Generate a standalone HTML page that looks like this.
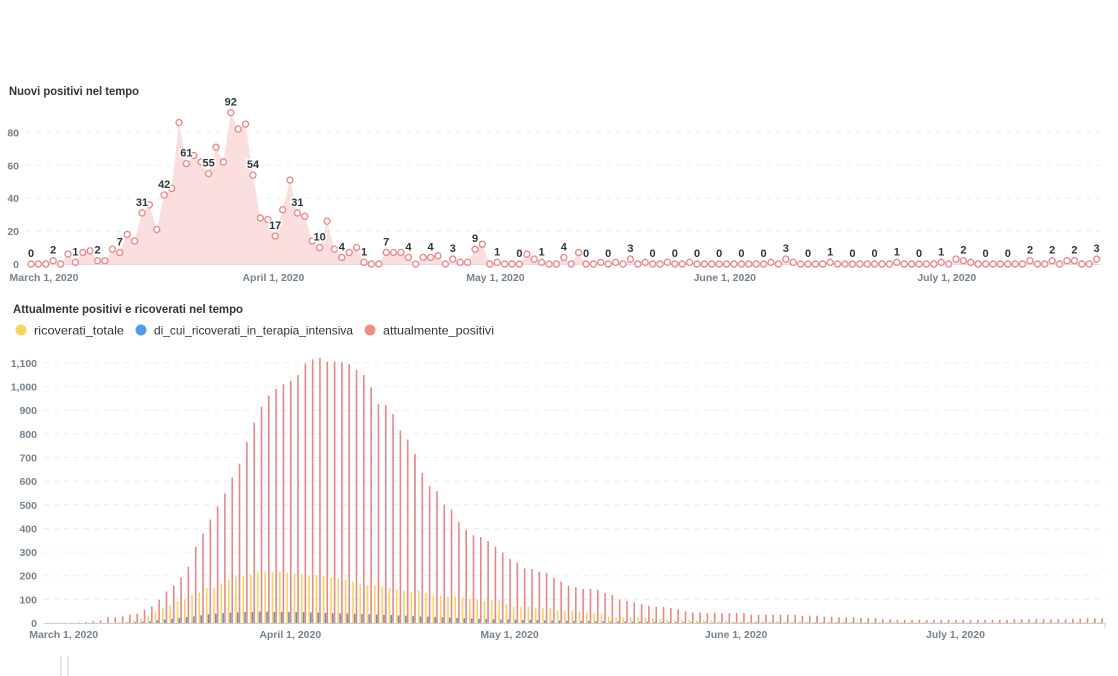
<!DOCTYPE html>
<html><head><meta charset="utf-8">
<style>
html,body{margin:0;padding:0;background:#fff;width:1118px;height:676px;overflow:hidden;font-family:"Liberation Sans",sans-serif;}
svg{position:absolute;left:0;top:0;}
.t{font-weight:bold;fill:#2e353b;font-size:12px;}
.ax{font-weight:bold;fill:#74838f;font-size:10.5px;}
.lbl{font-weight:bold;fill:#2e353b;font-size:11px;stroke:#fff;stroke-width:3px;paint-order:stroke;}
.leg{fill:#2e353b;font-size:12px;}
</style></head><body>
<svg id="chart" width="1118" height="676">
  <text class="t" x="9" y="95" textLength="130" lengthAdjust="spacingAndGlyphs">Nuovi positivi nel tempo</text>
  <text class="t" x="13" y="313" textLength="230" lengthAdjust="spacingAndGlyphs">Attualmente positivi e ricoverati nel tempo</text>
  <g>
    <circle cx="21" cy="330" r="5.5" fill="#F9D45C"/>
    <text class="leg" x="34" y="334.5" textLength="90" lengthAdjust="spacingAndGlyphs">ricoverati_totale</text>
    <circle cx="141" cy="330" r="5.5" fill="#509EE3"/>
    <text class="leg" x="154" y="334.5" textLength="199" lengthAdjust="spacingAndGlyphs">di_cui_ricoverati_in_terapia_intensiva</text>
    <circle cx="370" cy="330" r="5.5" fill="#EF8C8C"/>
    <text class="leg" x="383" y="334.5" textLength="111" lengthAdjust="spacingAndGlyphs">attualmente_positivi</text>
  </g>
  <g>
    <line x1="61" y1="656" x2="61" y2="676" stroke="#e2e4e6" stroke-width="2"/>
    <line x1="68" y1="656" x2="68" y2="676" stroke="#e2e4e6" stroke-width="2"/>
  </g>
</svg>
<script>
// ---- top chart data ----
const nuoviPositivi = [0,0,0,2,0,6,1,7,8,2,2,9,7,18,14,31,36,21,42,46,86,61,66,62,55,71,62,92,82,85,54,28,27,17,33,51,31,29,14,10,26,9,4,7,10,1,0,0,7,7,7,4,0,4,4,5,0,3,1,1,9,12,0,1,0,0,0,6,3,1,0,0,4,0,7,0,0,1,0,1,0,3,0,1,0,0,1,0,0,1,0,0,0,0,0,0,0,0,0,0,1,0,3,1,0,0,0,0,1,0,0,0,0,0,0,0,0,1,0,0,0,0,0,1,0,3,2,1,0,0,0,0,0,0,0,2,0,0,2,0,2,2,0,0,3];
const topYTicks = [0,20,40,60,80];
const dateLabels = ["March 1, 2020","April 1, 2020","May 1, 2020","June 1, 2020","July 1, 2020"];
const dateIdx = [0,31,61,92,122];
// ---- bottom chart data ----
const attualmentePositivi = [0,0,1,1,2,4,7,11,24,24,28,36,39,57,70,98,133,158,193,238,322,378,438,494,548,615,674,765,848,915,962,990,1010,1025,1049,1098,1115,1122,1105,1105,1105,1095,1070,1049,997,926,922,884,814,776,716,634,580,557,501,480,427,394,371,364,347,323,298,271,255,231,228,217,213,190,175,157,152,144,144,141,126,118,100,93,87,80,73,69,68,63,58,49,44,44,42,44,42,42,42,42,35,35,35,35,35,35,35,31,31,31,27,27,24,24,24,21,21,21,16,16,13,13,13,13,13,13,13,13,13,13,13,13,13,13,13,13,16,16,16,16,16,16,16,16,18,18,20,20,20];
const ricoveratiTotale = [0,0,0,0,0,0,0,1,1,2,5,7,10,18,31,49,63,77,91,98,119,129,147,147,165,185,196,199,207,217,217,217,217,213,210,207,201,201,199,193,189,182,175,165,161,161,156,147,140,137,133,136,126,116,115,112,112,108,102,98,94,97,95,80,69,69,69,65,65,62,55,52,52,48,44,41,38,27,24,24,24,24,24,20,16,14,13,13,12,12,11,11,10,10,9,9,8,8,7,7,7,6,6,6,6,5,5,5,5,5,5,4,4,4,4,4,4,4,4,4,4,3,3,3,3,3,3,3,3,3,3,3,3,3,3,3,3,3,3,3,3,3,3,3,3];
const terapiaIntensiva = [0,0,0,0,0,0,0,0,0,0,1,2,4,6,8,12,15,18,22,25,28,32,37,40,42,44,45,46,47,48,48,47,47,47,47,46,45,44,43,42,41,40,39,38,37,36,35,34,32,31,30,28,27,26,24,23,22,20,19,18,17,16,15,15,14,13,13,12,11,10,10,9,9,8,8,7,7,6,6,6,5,5,5,4,4,4,4,3,3,3,3,2,2,2,2,2,2,2,2,2,2,2,2,2,2,2,2,2,2,2,2,1,1,1,1,1,1,1,1,1,1,1,1,1,1,1,1,1,1,1,1,1,1,1,1,1,1,1,1,1,1,1,1,1,1];
const bottomYTicks = [0,100,200,300,400,500,600,700,800,900,1000,1100];

const NS="http://www.w3.org/2000/svg";
const svg=document.getElementById('chart');
function mk(tag,attrs,parent){const e=document.createElementNS(NS,tag);for(const k in attrs)e.setAttribute(k,attrs[k]);(parent||svg).appendChild(e);return e;}
function fmt(v){return v.toLocaleString('en-US');}

// ---- top chart ----
const xTop=i=>31+i*7.40;
const yTop=v=>264-v*1.645;
const gTop=mk('g',{});


topYTicks.forEach(t=>{
  if(t>0){const l=mk('line',{x1:26,x2:1100,y1:yTop(t),y2:yTop(t),stroke:'#eceef0','stroke-dasharray':'5,5'},gTop);
  
  }
  const tx=mk('text',{x:19,y:yTop(t)+4,'text-anchor':'end',class:'ax'},gTop);
  tx.textContent=t;
  
  
});
let d='M'+xTop(0)+','+yTop(0);
nuoviPositivi.forEach((v,i)=>{d+=' L'+xTop(i)+','+yTop(v);});
const area=mk('path',{d:d+' L'+xTop(nuoviPositivi.length-1)+','+yTop(0)+' Z',fill:'#fbdcdc','fill-opacity':'0.9'},gTop);


const ax1=mk('line',{x1:28,x2:1101,y1:264.5,y2:264.5,stroke:'#dcdfe2'},gTop);


const line=mk('path',{d:d.replace(/^M[^ ]+ /,'M'),fill:'none',stroke:'#EA8A8A','stroke-width':1.8},gTop);


nuoviPositivi.forEach((v,i)=>{
  const c=mk('circle',{cx:xTop(i),cy:yTop(v),r:3,fill:'#fff',stroke:'#EA8A8A','stroke-width':1.4},gTop);
  
  
});
nuoviPositivi.forEach((v,i)=>{
  if(i%3!==0)return;
  const t=mk('text',{x:xTop(i),y:yTop(v)-7,'text-anchor':'middle',class:'lbl'},gTop);
  t.textContent=v;
  
  
});
dateIdx.forEach((di,k)=>{
  const t=mk('text',{x:xTop(di)+13,y:281,'text-anchor':'middle',class:'ax'},gTop);
  t.textContent=dateLabels[k];
  
  
});

// ---- bottom chart ----
const band=i=>44+i*7.31;
const yB=v=>623-v*0.2364;
const gB=mk('g',{});


bottomYTicks.forEach(t=>{
  if(t>0){const l=mk('line',{x1:44,x2:1105,y1:yB(t),y2:yB(t),stroke:'#eceef0','stroke-dasharray':'5,5'},gB);
  
  }
  const tx=mk('text',{x:37,y:yB(t)+4,'text-anchor':'end',class:'ax'},gB);
  tx.textContent=fmt(t);
  
  
});
const series=[[ricoveratiTotale,'#F9D45C',1.1,'bar-ricoverati-totale'],[terapiaIntensiva,'#6f8fb0',2.9,'bar-terapia-intensiva'],[attualmentePositivi,'#EA8585',4.7,'bar-attualmente-positivi']];
series.forEach(s=>{
  s[0].forEach((v,i)=>{
    if(v<=0)return;
    const h=v*0.2364;
    const r=mk('rect',{x:band(i)+s[2],y:yB(v),width:1.6,height:h,fill:s[1]},gB);
    
    
  });
});
const ax2=mk('line',{x1:44,x2:1105,y1:623.5,y2:623.5,stroke:'#c9ced3'},gB);


const tk=mk('line',{x1:1105,x2:1105,y1:623,y2:628,stroke:'#c9ced3'},gB);


dateIdx.forEach((di,k)=>{
  const t=mk('text',{x:band(di)+3.65+16,y:638,'text-anchor':'middle',class:'ax'},gB);
  t.textContent=dateLabels[k];
  
  
});
</script>
</body></html>
